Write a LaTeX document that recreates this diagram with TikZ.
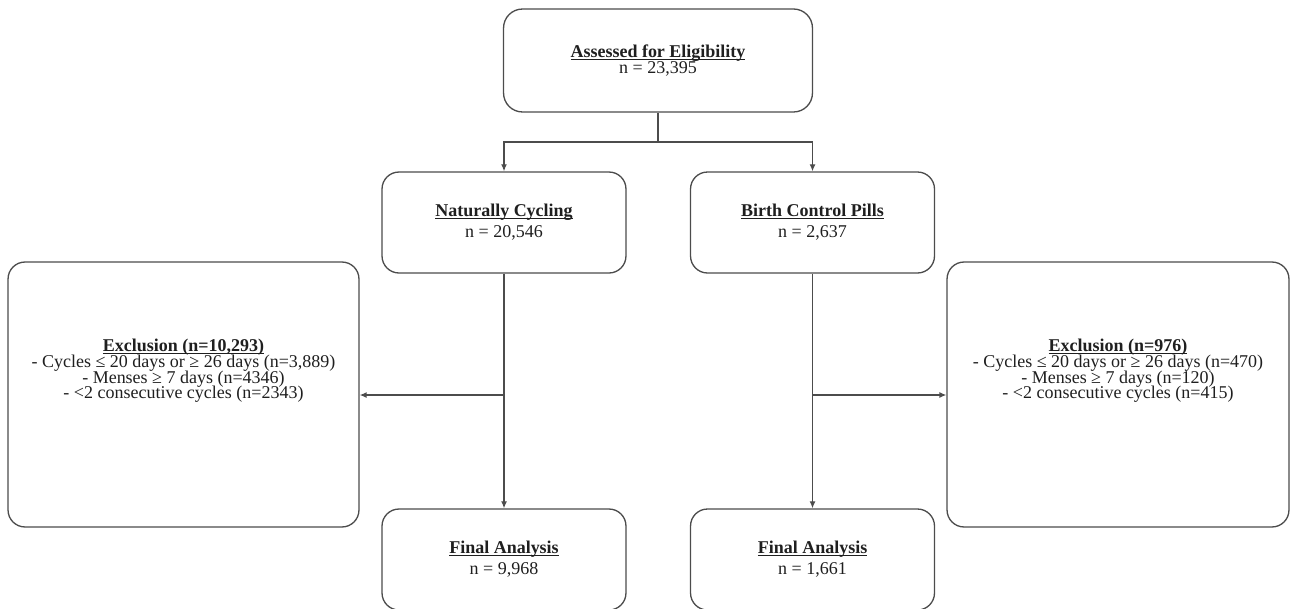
\documentclass[tikz,border=0pt]{standalone}
\usepackage{fontspec}
\setmainfont{Liberation Serif}
\usetikzlibrary{arrows.meta}

% bold title with a thin underline at the baseline
\newcommand{\hdr}[1]{\setbox0\hbox{\bfseries #1}\rlap{\rule[-1.4pt]{\wd0}{0.75pt}}\box0}

\begin{document}
\begin{tikzpicture}[x=0.02cm, y=-0.02cm,
  box/.style={draw=black!70, line width=0.75pt, rounded corners=0.34cm, inner sep=0pt,
    align=center, text=black!88, minimum width=4.88cm, minimum height=2.02cm,
    font={\fontsize{10.24}{11.95}\selectfont\lineskiplimit=-20pt}},
  topbox/.style={box, rounded corners=0.38cm, minimum width=6.18cm, minimum height=2.06cm,
    font={\fontsize{10.24}{8.9}\selectfont\lineskiplimit=-20pt}},
  exclbox/.style={box, minimum height=5.3cm},
  excltxt/.style={inner sep=0pt, align=center, text=black!88,
    font={\fontsize{10.24}{8.9}\selectfont\lineskiplimit=-20pt}},
  conn/.style={draw=black!70, line width=0.75pt},
  arr/.style={conn, -{Latex[length=4pt,width=3.4pt]}}]
\useasboundingbox (0,0) rectangle (1290,608);
\clip (0,0) rectangle (1290,608);

% boxes
\node[topbox] (top) at (658,60.5) {\hdr{Assessed for Eligibility}\\n = 23,395};
\node[box] (nc) at (504,222.5) {\hdr{Naturally Cycling}\\n = 20,546};
\node[box] (bcp) at (812.5,222.5) {\hdr{Birth Control Pills}\\n = 2,637};
\node[box] (finL) at (504,559.5) {\hdr{Final Analysis}\\n = 9,968};
\node[box] (finR) at (812.5,559.5) {\hdr{Final Analysis}\\n = 1,661};
\node[exclbox, minimum width=7.02cm] (exL) at (183.5,394.5) {};
\node[exclbox, minimum width=6.84cm] (exR) at (1118,394.5) {};

% exclusion texts
\node[excltxt] (exLtxt) at (183.5,371) {\hdr{Exclusion (n=10,293)}\\
  - Cycles ≤ 20 days or ≥ 26 days (n=3,889)\\
  - Menses ≥ 7 days (n=4346)\\
  - <2 consecutive cycles (n=2343)};
\node[excltxt] (exRtxt) at (1118,371) {\hdr{Exclusion (n=976)}\\
  - Cycles ≤ 20 days or ≥ 26 days (n=470)\\
  - Menses ≥ 7 days (n=120)\\
  - <2 consecutive cycles (n=415)};

% connectors
\coordinate (split) at (658,142);
\coordinate (brL) at (504,395);
\coordinate (brR) at (812.5,395);
\draw[conn] (top.south) -- (split);
\draw[arr] (split) -| (nc.north);
\draw[arr] (split) -| (bcp.north);
\draw[arr] (nc.south) -- (finL.north);
\draw[arr] (bcp.south) -- (finR.north);
\draw[arr] (brL) -- (brL -| exL.east);
\draw[arr] (brR) -- (brR -| exR.west);
\end{tikzpicture}
\end{document}
